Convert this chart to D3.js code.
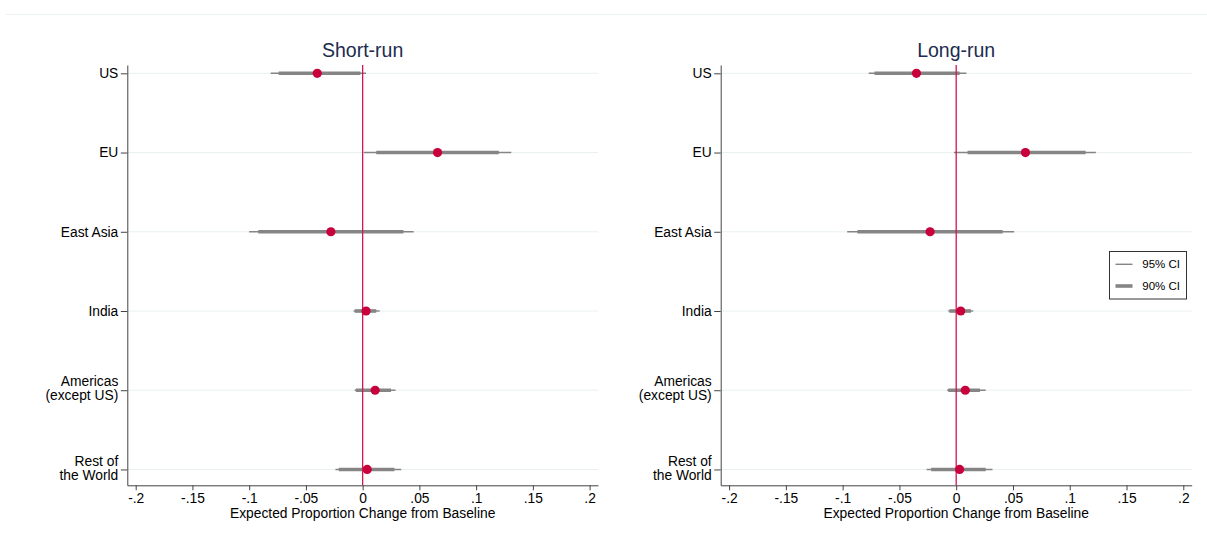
<!DOCTYPE html>
<html>
<head>
<meta charset="utf-8">
<script src="https://cdn.jsdelivr.net/npm/d3@7"></script>
<style>
  html, body { margin: 0; padding: 0; background: #ffffff; }
  svg { display: block; font-family: "Liberation Sans", Arial, sans-serif; }
</style>
</head>
<body>
<svg id="chart" width="1207" height="545"></svg>
<script>
// Regions (one row each, top to bottom) and their axis labels
const regions = ["US", "EU", "East Asia", "India", "Americas (except US)", "Rest of the World"];
const regionLabels = [["US"], ["EU"], ["East Asia"], ["India"], ["Americas", "(except US)"], ["Rest of", "the World"]];

// Short-run estimates with 95% and 90% confidence bounds
const shortEst  = [-0.040, 0.066, -0.028, 0.003, 0.011, 0.004];
const shortLo95 = [-0.081, 0.001, -0.100, -0.008, -0.007, -0.024];
const shortHi95 = [ 0.003, 0.131,  0.045,  0.015,  0.029,  0.034];
const shortLo90 = [-0.074, 0.012, -0.092, -0.007, -0.006, -0.021];
const shortHi90 = [-0.002, 0.120,  0.036,  0.012,  0.025,  0.028];

// Long-run estimates with 95% and 90% confidence bounds
const longEst  = [-0.035, 0.061, -0.023, 0.004, 0.008, 0.003];
const longLo95 = [-0.077, -0.002, -0.096, -0.007, -0.008, -0.026];
const longHi95 = [ 0.009, 0.123,  0.051,  0.015,  0.026,  0.032];
const longLo90 = [-0.072, 0.010, -0.087, -0.006, -0.007, -0.022];
const longHi90 = [ 0.003, 0.114,  0.041,  0.013,  0.021,  0.026];

// X axis ticks
const xTicks = [-0.2, -0.15, -0.1, -0.05, 0, 0.05, 0.1, 0.15, 0.2];
const xTickLabels = ["-.2", "-.15", "-.1", "-.05", "0", ".05", ".1", ".15", ".2"];

const panelTitles = ["Short-run", "Long-run"];
const xTitle = "Expected Proportion Change from Baseline";
const legendLabels = ["95% CI", "90% CI"];

const svg = d3.select("#chart");

const COL_POINT = "#c8003c";
const COL_CI = "#858585";
const COL_ZERO = "#d21650";
const COL_GRID = "#e9f0f1";
const COL_AXIS = "#444444";
const FONT = "13.8px";

// thin top rule across the graph region
svg.append("line")
  .attr("x1", 6).attr("x2", 1207).attr("y1", 14.5).attr("y2", 14.5)
  .attr("stroke", "#eaf1f1").attr("stroke-width", 1);

const plotTop = 65, plotBottom = 485.3;
const y = d3.scaleLinear().domain([0.895, 6.2]).range([plotTop, plotBottom]);

function drawPanel(left, right, title, est, lo95, hi95, lo90, hi90) {
  const x = d3.scaleLinear().domain([-0.2074, 0.2074]).range([left, right]);
  const g = svg.append("g");
  const rows = regions.map((r, i) => ({
    i, est: est[i], lo95: lo95[i], hi95: hi95[i], lo90: lo90[i], hi90: hi90[i]
  }));

  // horizontal gridlines at each region
  g.selectAll("line.grid").data(rows).enter().append("line")
    .attr("class", "grid")
    .attr("x1", left).attr("x2", right)
    .attr("y1", d => y(d.i + 1)).attr("y2", d => y(d.i + 1))
    .attr("stroke", COL_GRID).attr("stroke-width", 1);

  // x axis
  const xAxis = d3.axisBottom(x)
    .tickValues(xTicks)
    .tickFormat((d, i) => xTickLabels[i])
    .tickSize(5).tickSizeOuter(0).tickPadding(3);
  const gx = g.append("g").attr("transform", `translate(0,${plotBottom})`).call(xAxis);
  gx.select(".domain").attr("stroke", COL_AXIS);
  gx.selectAll(".tick line").attr("stroke", COL_AXIS);
  gx.selectAll(".tick text").attr("fill", "#000").style("font-size", FONT)
    .style("font-family", "Liberation Sans, Arial, sans-serif");

  // y axis
  const yAxis = d3.axisLeft(y)
    .tickValues(d3.range(1, regions.length + 1))
    .tickFormat("")
    .tickSize(6.5).tickSizeOuter(0);
  const gy = g.append("g").attr("transform", `translate(${left},0)`).call(yAxis);
  gy.select(".domain").attr("stroke", COL_AXIS);
  gy.selectAll(".tick line").attr("stroke", COL_AXIS);
  gy.selectAll(".tick text").remove();
  regionLabels.forEach((lines, i) => {
    const t = g.append("text")
      .attr("text-anchor", "end")
      .attr("fill", "#000")
      .style("font-size", FONT);
    const yc = y(i + 1);
    if (lines.length === 1) {
      t.append("tspan").attr("x", left - 9).attr("y", yc + 4.8).text(lines[0]);
    } else {
      t.append("tspan").attr("x", left - 9).attr("y", yc - 3.8).text(lines[0]);
      t.append("tspan").attr("x", left - 9).attr("y", yc + 10.2).text(lines[1]);
    }
  });

  // x axis title
  g.append("text")
    .attr("x", (left + right) / 2).attr("y", 518.3)
    .attr("text-anchor", "middle").attr("fill", "#000")
    .style("font-size", FONT)
    .text(xTitle);

  // panel title
  g.append("text")
    .attr("x", (left + right) / 2).attr("y", 57.3)
    .attr("text-anchor", "middle").attr("fill", "#1c2c4f")
    .style("font-size", "19.5px")
    .text(title);

  // 95% CI (thin)
  g.selectAll("line.ci95").data(rows).enter().append("line")
    .attr("class", "ci95")
    .attr("x1", d => x(d.lo95)).attr("x2", d => x(d.hi95))
    .attr("y1", d => y(d.i + 1)).attr("y2", d => y(d.i + 1))
    .attr("stroke", COL_CI).attr("stroke-width", 1.4);

  // 90% CI (thick)
  g.selectAll("line.ci90").data(rows).enter().append("line")
    .attr("class", "ci90")
    .attr("x1", d => x(d.lo90)).attr("x2", d => x(d.hi90))
    .attr("y1", d => y(d.i + 1)).attr("y2", d => y(d.i + 1))
    .attr("stroke", COL_CI).attr("stroke-width", 3.6);

  // zero reference line
  g.append("line")
    .attr("x1", x(0)).attr("x2", x(0))
    .attr("y1", plotTop).attr("y2", plotBottom)
    .attr("stroke", COL_ZERO).attr("stroke-width", 1.3);

  // point estimates
  g.selectAll("circle.est").data(rows).enter().append("circle")
    .attr("class", "est")
    .attr("cx", d => x(d.est)).attr("cy", d => y(d.i + 1))
    .attr("r", 4.6)
    .attr("fill", COL_POINT);

  return x;
}

drawPanel(127.3, 598, panelTitles[0], shortEst, shortLo95, shortHi95, shortLo90, shortHi90);
drawPanel(720.7, 1191.7, panelTitles[1], longEst, longLo95, longHi95, longLo90, longHi90);

// legend in the long-run panel
const lg = svg.append("g");
lg.append("rect")
  .attr("x", 1109.5).attr("y", 251.5).attr("width", 77).attr("height", 47.5)
  .attr("fill", "#fff").attr("stroke", "#333").attr("stroke-width", 1);
const legendWidths = [1.4, 3.6];
legendLabels.forEach((lab, i) => {
  const ly = 264.3 + i * 21.7;
  lg.append("line")
    .attr("x1", 1115.5).attr("x2", 1132.5).attr("y1", ly).attr("y2", ly)
    .attr("stroke", COL_CI).attr("stroke-width", legendWidths[i]);
  lg.append("text")
    .attr("x", 1142.3).attr("y", ly + 4)
    .attr("fill", "#000").style("font-size", "11.5px")
    .text(lab);
});
</script>
</body>
</html>
